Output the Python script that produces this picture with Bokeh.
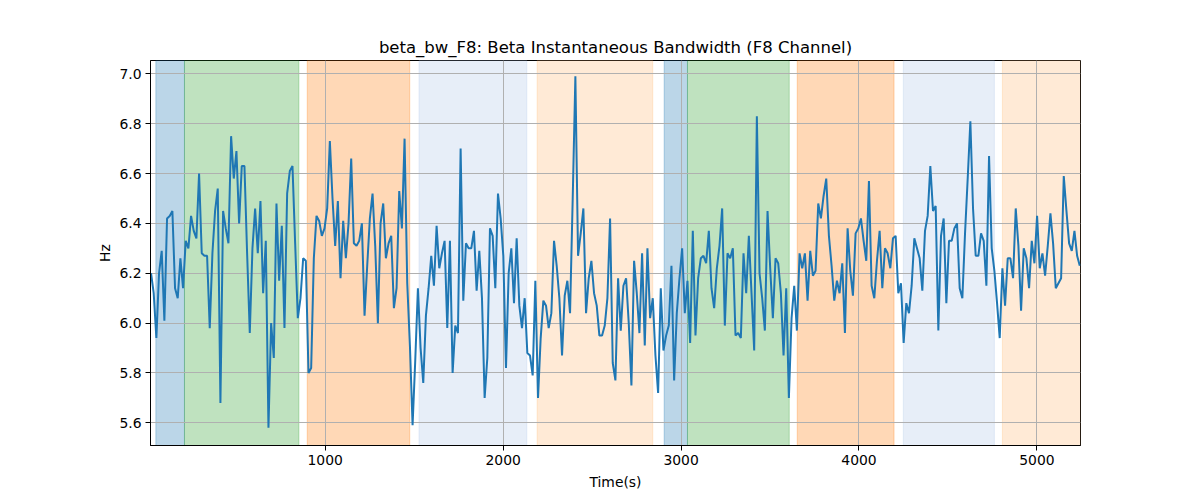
import numpy as np
from bokeh.plotting import figure
from bokeh.models import BoxAnnotation, Range1d, FixedTicker, NumeralTickFormatter
from bokeh.embed import file_html
from bokeh.resources import INLINE

TITLE = "beta_bw_F8: Beta Instantaneous Bandwidth (F8 Channel)"
X_LABEL = "Time(s)"
Y_LABEL = "Hz"

T_START = 21.0
T_STEP = 15.0

values = [
    6.20, 6.12, 5.94, 6.20, 6.29, 6.01, 6.42, 6.43, 6.45, 6.14, 6.10, 6.26, 6.14, 6.33, 6.30, 6.43, 6.37, 6.34, 6.60, 6.28,
    6.27, 6.27, 5.98, 6.28, 6.45, 6.54, 5.68, 6.45, 6.38, 6.32, 6.75, 6.58, 6.69, 6.40, 6.63, 6.63, 6.28, 5.96, 6.30,
    6.46, 6.28, 6.49, 6.12, 6.33, 5.58, 6.00, 5.86, 6.48, 6.17, 6.39, 5.98, 6.52, 6.61, 6.63, 6.32, 6.02, 6.10, 6.26, 6.25,
    5.80, 5.82, 6.26, 6.43, 6.41, 6.35, 6.38, 6.46, 6.73, 6.50, 6.31, 6.49, 6.18, 6.41, 6.26, 6.40, 6.66, 6.32,
    6.31, 6.33, 6.40, 6.03, 6.23, 6.42, 6.52, 6.31, 6.00, 6.40, 6.48, 6.26, 6.32, 6.35, 6.06, 6.14, 6.53, 6.38, 6.74, 6.16,
    5.91, 5.59, 5.85, 6.14, 5.90, 5.76, 6.03, 6.14, 6.27, 6.15, 6.39, 6.22, 6.28, 6.33, 5.98, 6.33, 5.80, 5.99,
    5.96, 6.70, 6.09, 6.32, 6.30, 6.30, 6.37, 6.13, 6.29, 6.10, 5.70, 5.86, 6.38, 6.35, 6.14, 6.52, 6.42, 6.27, 5.82, 6.20,
    6.30, 6.08, 6.34, 6.07, 5.98, 6.10, 5.88, 5.87, 5.79, 6.17, 5.70, 5.94, 6.09, 6.07, 5.98, 6.04, 6.33, 6.23,
    6.10, 5.87, 6.11, 6.17, 6.04, 6.50, 6.99, 6.27, 6.36, 6.46, 6.04, 6.18, 6.25, 6.12, 6.07, 5.95, 5.95, 5.99, 6.10, 6.42,
    5.84, 5.77, 6.18, 5.97, 6.15, 6.18, 6.00, 5.75, 6.25, 6.12, 5.96, 6.28, 5.91, 6.30, 6.02, 6.10, 5.87, 5.72, 6.14,
    5.89, 5.95, 5.99, 6.23, 5.77, 6.04, 6.18, 6.30, 6.04, 6.17, 5.92, 6.37, 5.95, 6.18, 6.26, 6.27, 6.24, 6.37, 6.14, 6.06,
    6.22, 6.31, 6.46, 5.99, 6.28, 6.26, 6.30, 5.95, 5.96, 5.94, 6.28, 6.12, 6.35, 6.12, 5.89, 6.83, 6.20, 6.10,
    5.97, 6.45, 6.22, 6.02, 6.26, 6.24, 6.12, 5.87, 6.14, 5.70, 6.02, 6.15, 5.97, 6.28, 6.22, 6.28, 6.09, 6.29, 6.19, 6.21,
    6.48, 6.42, 6.51, 6.58, 6.35, 6.23, 6.09, 6.17, 6.12, 6.24, 5.96, 6.38, 6.21, 6.11, 6.36, 6.38, 6.42, 6.33,
    6.25, 6.57, 6.15, 6.10, 6.25, 6.37, 6.14, 6.30, 6.28, 6.22, 6.34, 6.35, 6.12, 6.16, 5.92, 6.08, 6.04, 6.15, 6.34, 6.30,
    6.26, 6.13, 6.37, 6.43, 6.63, 6.45, 6.47, 5.97, 6.35, 6.42, 6.08, 6.33, 6.33, 6.38, 6.40, 6.14, 6.10, 6.36, 6.58,
    6.81, 6.46, 6.27, 6.27, 6.36, 6.33, 6.15, 6.67, 6.30, 6.21, 6.08, 5.94, 6.22, 6.07, 6.26, 6.26, 6.18, 6.46, 6.31, 6.05,
    6.30, 6.26, 6.14, 6.33, 6.24, 6.43, 6.22, 6.28, 6.19, 6.31, 6.44, 6.32, 6.14, 6.16, 6.18, 6.59, 6.45, 6.32, 6.29, 6.37,
    6.27, 6.23,
]
times = T_START + T_STEP * np.arange(len(values))

span_starts = [48, 209, 899, 1527, 2191, 2905, 3036, 3653, 4249, 4806]
span_ends = [209, 852, 1475, 2133, 2841, 3036, 3608, 4197, 4761, 5300]
span_colors = ["#1f77b4", "#2ca02c", "#ff7f0e", "#aec7e8", "#ffbb78",
               "#1f77b4", "#2ca02c", "#ff7f0e", "#aec7e8", "#ffbb78"]
span_alphas = [0.3] * 10

x_ticks = [1000, 2000, 3000, 4000, 5000]
y_ticks = [5.6, 5.8, 6.0, 6.2, 6.4, 6.6, 6.8, 7.0]

FONT = "DejaVu Sans"

p = figure(
    output_backend="svg", toolbar_location=None,
    frame_width=930, frame_height=385,
    min_border_left=150, min_border_right=104,
    min_border_top=60, min_border_bottom=47,
    x_range=Range1d(18, 5245), y_range=Range1d(5.509, 7.0535),
    title=TITLE,
)
p.sizing_mode = "fixed"
p.title.align = "center"
p.title.text_font = FONT
p.title.text_font_size = "16.5px"
p.title.text_font_style = "normal"
p.title.text_color = "black"
p.title.standoff = 8

for s, e, c, a in zip(span_starts, span_ends, span_colors, span_alphas):
    box = BoxAnnotation(left=s, right=e, fill_color=c, fill_alpha=a,
                        line_color=c, line_alpha=a, line_width=1, level="image")
    p.add_layout(box)

p.line(times, values, line_color="#1f77b4", line_width=2)

p.xaxis.ticker = FixedTicker(ticks=x_ticks)
p.yaxis.ticker = FixedTicker(ticks=y_ticks)
p.yaxis.formatter = NumeralTickFormatter(format="0.0")
p.xaxis.axis_label = X_LABEL
p.yaxis.axis_label = Y_LABEL
for ax in (p.xaxis[0], p.yaxis[0]):
    ax.axis_label_text_font = FONT
    ax.axis_label_text_font_size = "13.9px"
    ax.axis_label_text_font_style = "normal"
    ax.axis_label_text_color = "black"
    ax.major_label_text_font = FONT
    ax.major_label_text_font_size = "13.9px"
    ax.major_label_text_color = "black"
    ax.axis_line_color = "black"
    ax.major_tick_line_color = "black"
    ax.major_tick_out = 5
    ax.major_tick_in = 0
    ax.minor_tick_line_color = None
    ax.major_label_standoff = 4
p.xaxis.axis_label_standoff = 6
p.yaxis.axis_label_standoff = 3

p.xgrid.grid_line_color = "#b0b0b0"
p.ygrid.grid_line_color = "#b0b0b0"
p.xgrid.grid_line_width = 1
p.ygrid.grid_line_width = 1
p.outline_line_color = "black"
p.outline_line_width = 1
p.background_fill_color = "white"
p.border_fill_color = "white"

open("out.html", "w").write(file_html(p, INLINE))
